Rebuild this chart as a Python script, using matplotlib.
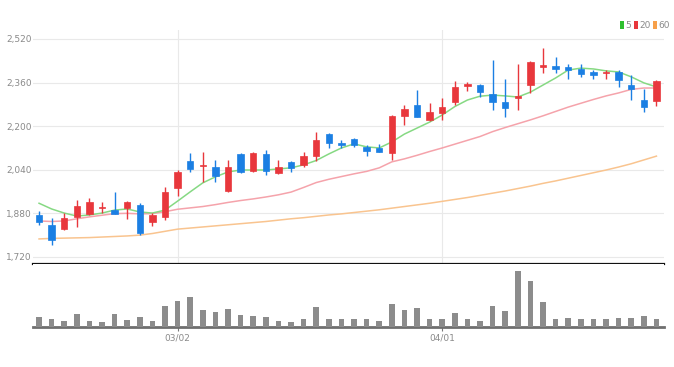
import matplotlib

matplotlib.use("Agg")

import matplotlib.pyplot as plt
import numpy as np
from matplotlib.patches import Rectangle
from matplotlib.ticker import FuncFormatter


# daily candles (50 sessions)
opens = [1874, 1837, 1823, 1867, 1878, 1900, 1892, 1900, 1911, 1850,
         1867, 1973, 2072, 2052, 2050, 1962, 2098, 2036, 2098, 2028,
         2069, 2058, 2091, 2171, 2140, 2153, 2124, 2120, 2102, 2237,
         2278, 2223, 2248, 2289, 2349, 2351, 2318, 2289, 2305, 2351,
         2419, 2421, 2417, 2410, 2399, 2395, 2399, 2351, 2296, 2292]
highs = [1890, 1863, 1881, 1930, 1936, 1922, 1958, 1924, 1918, 1881,
         1977, 2040, 2100, 2105, 2076, 2076, 2100, 2105, 2113, 2076,
         2072, 2105, 2179, 2175, 2150, 2157, 2131, 2135, 2241, 2278,
         2333, 2285, 2303, 2366, 2362, 2355, 2443, 2373, 2428, 2438,
         2487, 2454, 2428, 2428, 2406, 2406, 2406, 2388, 2337, 2370]
lows = [1838, 1764, 1819, 1830, 1874, 1880, 1878, 1860, 1801, 1835,
        1856, 1942, 2030, 1995, 1995, 1958, 2028, 2032, 2021, 2025,
        2030, 2050, 2072, 2120, 2120, 2125, 2092, 2104, 2076, 2205,
        2234, 2219, 2223, 2278, 2330, 2307, 2260, 2234, 2260, 2322,
        2395, 2395, 2373, 2381, 2373, 2373, 2344, 2296, 2252, 2274]
closes = [1850, 1782, 1863, 1907, 1922, 1905, 1879, 1922, 1808, 1874,
          1958, 2032, 2043, 2056, 2017, 2050, 2032, 2102, 2036, 2050,
          2047, 2091, 2150, 2138, 2132, 2131, 2109, 2106, 2237, 2263,
          2234, 2252, 2270, 2344, 2353, 2325, 2289, 2267, 2309, 2436,
          2423, 2410, 2406, 2392, 2388, 2399, 2370, 2337, 2270, 2366]
volumes = [30, 25, 18, 38, 18, 14, 38, 22, 30, 18,
           63, 78, 88, 50, 45, 53, 35, 32, 29, 19,
           14, 25, 58, 25, 23, 23, 23, 18, 68, 50,
           55, 23, 23, 40, 25, 19, 63, 48, 165, 135,
           73, 23, 28, 25, 25, 23, 28, 28, 33, 23]

# moving averages as drawn on the chart
ma5 = [1917, 1896, 1881, 1870, 1874, 1881, 1892, 1896, 1885, 1881,
       1892, 1925, 1959, 1992, 2014, 2032, 2039, 2039, 2039, 2043,
       2047, 2058, 2074, 2098, 2120, 2135, 2124, 2120, 2142, 2171,
       2193, 2215, 2241, 2272, 2296, 2310, 2314, 2311, 2307, 2325,
       2351, 2377, 2406, 2413, 2410, 2403, 2399, 2381, 2359, 2344]
ma20 = [1852, 1850, 1852, 1860, 1867, 1873, 1879, 1880, 1878, 1879,
        1886, 1895, 1900, 1905, 1912, 1920, 1927, 1933, 1940, 1948,
        1958, 1975, 1993, 2005, 2015, 2025, 2034, 2047, 2069, 2080,
        2093, 2107, 2120, 2134, 2148, 2162, 2180, 2195, 2209, 2223,
        2238, 2254, 2270, 2284, 2298, 2311, 2322, 2335, 2340, 2340]
ma60 = [1786, 1788, 1789, 1790, 1791, 1793, 1795, 1797, 1800, 1806,
        1814, 1822, 1826, 1830, 1834, 1838, 1842, 1846, 1850, 1855,
        1860, 1864, 1869, 1874, 1878, 1883, 1888, 1893, 1899, 1905,
        1911, 1917, 1924, 1931, 1938, 1946, 1954, 1962, 1971, 1980,
        1990, 1999, 2009, 2019, 2029, 2039, 2050, 2062, 2076, 2090]

tick_index = [11, 32]
tick_labels = ["03/02", "04/01"]
price_ticks = [1720, 1880, 2040, 2200, 2360, 2520]
legend_labels = ["5", "20", "60"]

UP = "#e8373c"
DOWN = "#1b7fe3"
MA_COLORS = ["#86d983", "#f5a3ab", "#f9c48f"]
LEGEND_COLORS = ["#2fbf2f", "#e8373c", "#f7a04a"]
LABEL_FONT = ["Liberation Sans Narrow", "DejaVu Sans"]
W, H = 674, 367

fig = plt.figure(figsize=(W / 100, H / 100), dpi=100)
left, right = 33 / W, 664 / W
ax = fig.add_axes([left, 1 - 264 / H, right - left, (264 - 30) / H])
axv = fig.add_axes([left, 1 - 327 / H, right - left, (327 - 264) / H], sharex=ax)

x = np.arange(len(opens))

# moving averages under the candles
for series, color in zip([ma60, ma20, ma5], MA_COLORS[::-1]):
    ax.plot(x, series, color=color, lw=1.1, zorder=2)

for i in x:
    o, h, l, c = opens[i], highs[i], lows[i], closes[i]
    color = UP if c >= o else DOWN
    ax.vlines(i, l, h, color=color, lw=1, zorder=3)
    body = max(abs(c - o), 3)
    ax.add_patch(Rectangle((i - 0.25, min(o, c)), 0.5, body,
                           facecolor=color, edgecolor=color, lw=0.5, zorder=4))

ax.set_xlim(-0.48, len(opens) - 0.4)
ax.set_ylim(1694, 2553)
ax.set_yticks(price_ticks)
ax.yaxis.set_major_formatter(FuncFormatter(lambda v, _: f"{int(v):,}"))
ax.set_xticks(tick_index)
ax.tick_params(axis="x", length=0, labelbottom=False)
ax.tick_params(axis="y", length=0, pad=1, labelsize=6.5, labelcolor="#8a8a8a")
for label in ax.get_yticklabels():
    label.set_family(LABEL_FONT)
ax.grid(True, color="#e9e9e9", lw=0.8)
ax.set_axisbelow(True)
for side in ["top", "right", "left"]:
    ax.spines[side].set_visible(False)
ax.spines["bottom"].set_color("#111111")
ax.spines["bottom"].set_linewidth(1.6)

# volume panel
axv.bar(x, volumes, width=0.45, color="#8c8c8c", zorder=3)
axv.set_ylim(0, 186)
axv.set_yticks([])
axv.set_xticks(tick_index)
axv.set_xticklabels(tick_labels)
axv.tick_params(axis="x", length=3, width=0.8, color="#777777", pad=2,
                labelsize=6.5, labelcolor="#8a8a8a")
for label in axv.get_xticklabels():
    label.set_family(LABEL_FONT)
for side in ["top", "right", "left"]:
    axv.spines[side].set_visible(False)
axv.spines["bottom"].set_color("#6f6f6f")
axv.spines["bottom"].set_linewidth(2)

# legend in the top right corner
lx = 620
for text, color in zip(legend_labels, LEGEND_COLORS):
    fig.patches.append(Rectangle((lx / W, 1 - 29 / H), 4 / W, 8 / H,
                                 transform=fig.transFigure, facecolor=color,
                                 edgecolor="none"))
    t = fig.text((lx + 5.5) / W, 1 - 25 / H, text, fontsize=6.5, color="#8a8a8a",
                 va="center", ha="left", family=LABEL_FONT)
    lx += 6 + 4.2 * len(text) + 4

fig.savefig("out.png", dpi=100)
plt.close(fig)
